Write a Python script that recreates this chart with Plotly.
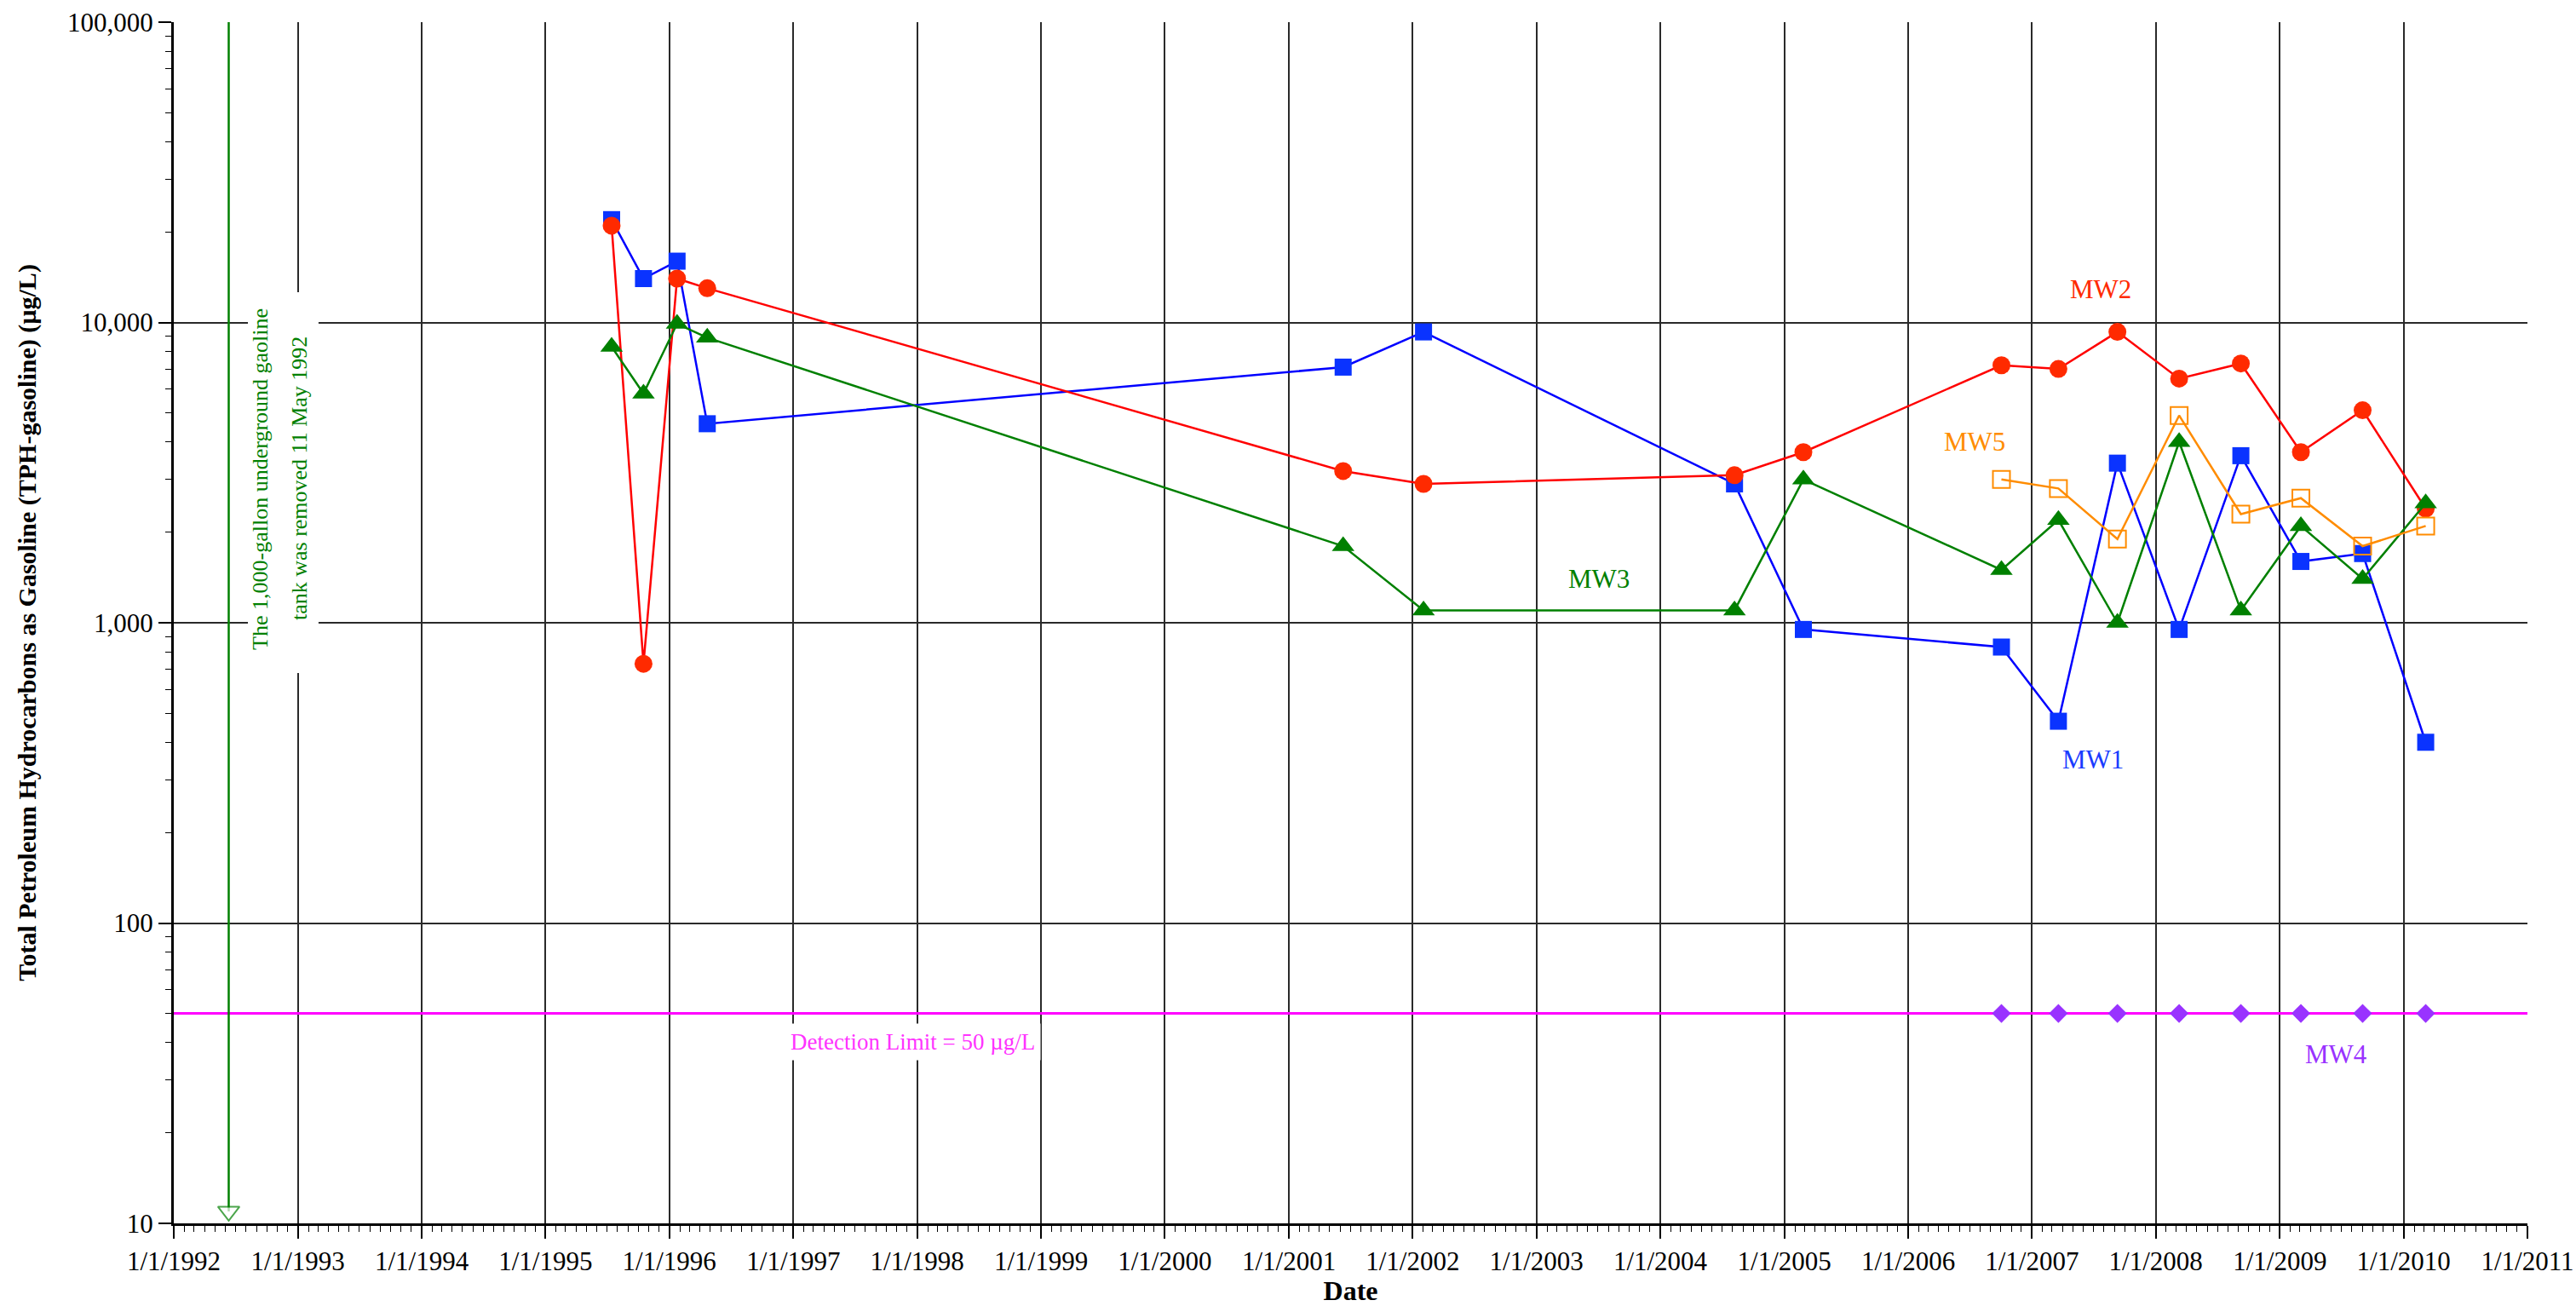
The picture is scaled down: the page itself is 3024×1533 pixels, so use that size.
import plotly.graph_objects as go

# ---------------- data ----------------
SAMPLE_DATES = ['1995-07-15', '1995-10-17', '1996-01-24', '1996-04-22',
                '2001-06-10', '2002-02-02', '2004-08-07', '2005-02-26',
                '2006-10-03', '2007-03-20', '2007-09-10', '2008-03-10',
                '2008-09-08', '2009-03-04', '2009-09-02', '2010-03-07']
RECENT_DATES = ['2006-10-03', '2007-03-20', '2007-09-10', '2008-03-10',
                '2008-09-08', '2009-03-04', '2009-09-02', '2010-03-07']

MW1 = [22000, 14000, 16000, 4600, 7100, 9300, 2900, 950,
       830, 470, 3400, 950, 3600, 1600, 1700, 400]
MW2 = [21000, 730, 14000, 13000, 3200, 2900, 3100, 3700,
       7200, 7000, 9300, 6500, 7300, 3700, 5100, 2400]
MW3 = [8300, 5800, 9900, 8900, 1800, 1100, 1100, 3000,
       1500, 2200, 1000, 4000, 1100, 2100, 1400, 2500]
MW4 = [50, 50, 50, 50, 50, 50, 50, 50]
MW5 = [3000, 2800, 1900, 4900, 2300, 2600, 1800, 2100]

DETECTION_LIMIT = 50
TANK_REMOVAL_DATE = '1992-06-11'
TANK_LINE_TOP = 100000
TANK_LINE_BOTTOM = 10.96

X_RANGE = ['1992-01-01', '2011-01-01']
Y_TICK_VALUES = [10, 100, 1000, 10000, 100000]
Y_TICK_TEXT = ['10', '100', '1,000', '10,000', '100,000']

FONT = 'Liberation Serif, Times New Roman, serif'

# ---------------- figure ----------------
fig = go.Figure()

# detection-limit line
fig.add_trace(go.Scatter(x=X_RANGE, y=[DETECTION_LIMIT, DETECTION_LIMIT], mode='lines',
                         line=dict(color='#FF00FF', width=3), hoverinfo='skip'))

# tank removal marker line with open arrow head
fig.add_trace(go.Scatter(x=[TANK_REMOVAL_DATE, TANK_REMOVAL_DATE],
                         y=[TANK_LINE_TOP, TANK_LINE_BOTTOM], mode='lines+markers',
                         line=dict(color='#008000', width=2.5),
                         marker=dict(symbol='triangle-down', size=[0, 22], color='white',
                                     line=dict(color='#008000', width=2)),
                         cliponaxis=False, hoverinfo='skip'))

fig.add_trace(go.Scatter(x=SAMPLE_DATES, y=MW1, mode='lines+markers', name='MW1',
                         line=dict(color='#0000FF', width=2.5),
                         marker=dict(symbol='square', size=20, color='#0A33FF')))
fig.add_trace(go.Scatter(x=SAMPLE_DATES, y=MW2, mode='lines+markers', name='MW2',
                         line=dict(color='#FF0000', width=2.5),
                         marker=dict(symbol='circle', size=21, color='#FF2A00')))
fig.add_trace(go.Scatter(x=SAMPLE_DATES, y=MW3, mode='lines+markers', name='MW3',
                         line=dict(color='#008000', width=2.5),
                         marker=dict(symbol='triangle-up', size=23, color='#008000')))
fig.add_trace(go.Scatter(x=RECENT_DATES, y=MW4, mode='markers', name='MW4',
                         marker=dict(symbol='diamond', size=17, color='#9933FF')))
fig.add_trace(go.Scatter(x=RECENT_DATES, y=MW5, mode='lines+markers', name='MW5',
                         line=dict(color='#FF8C00', width=2.5),
                         marker=dict(symbol='square-open', size=20, color='#FF8C00',
                                     line=dict(width=2))))

# white box behind the tank note (no data marks lie inside it)
fig.add_shape(type='rect', xref='paper', yref='paper', x0=0.0315, x1=0.0615,
              y0=0.4582, y1=0.7752, fillcolor='white', line=dict(width=0), layer='above')

annotations = [
    dict(text='The 1,000-gallon underground gaoline', x=0.0369, y=0.6199,
         textangle=-90, font=dict(color='#008000', size=26)),
    dict(text='tank was removed 11 May 1992', x=0.0536, y=0.6199,
         textangle=-90, font=dict(color='#008000', size=26)),
    dict(text='Detection Limit = 50 µg/L', x=0.3138, y=0.1511,
         font=dict(color='#FF33FF', size=27), bgcolor='white', borderpad=6),
    dict(text='MW2', x=0.8187, y=0.7780, font=dict(color='#FF2A00', size=31)),
    dict(text='MW5', x=0.7651, y=0.6504, font=dict(color='#FF8C00', size=31)),
    dict(text='MW1', x=0.8154, y=0.3865, font=dict(color='#1A3CFF', size=31)),
    dict(text='MW3', x=0.6055, y=0.5362, font=dict(color='#008000', size=31)),
    dict(text='MW4', x=0.9186, y=0.1411, font=dict(color='#9933FF', size=31)),
]
for a in annotations:
    a.update(xref='paper', yref='paper', showarrow=False, xanchor='center', yanchor='middle')
    a['font']['family'] = FONT
    fig.add_annotation(**a)

minor_y = [m * 10 ** e for e in range(1, 5) for m in range(2, 10)]

fig.update_layout(
    width=3024, height=1533,
    margin=dict(l=204, r=57, t=26, b=97, pad=0),
    paper_bgcolor='white', plot_bgcolor='white',
    showlegend=False,
    font=dict(family=FONT, size=31, color='black'),
    xaxis=dict(
        type='date', range=X_RANGE, tick0='1992-01-01', dtick='M12',
        tickformat='%-m/%-d/%Y', tickfont=dict(size=31, family=FONT),
        showgrid=True, gridcolor='#2a2a2a', gridwidth=1.6,
        showline=True, linecolor='black', linewidth=3, zeroline=False,
        ticks='outside', ticklen=15, tickwidth=1.5, tickcolor='black',
        minor=dict(dtick='M1', tick0='1992-01-01', ticks='outside', ticklen=7,
                   tickwidth=1.2, tickcolor='black', showgrid=False),
        title=dict(text='Date', font=dict(size=32, family=FONT, weight='bold'), standoff=6),
        automargin=False,
    ),
    yaxis=dict(
        type='log', range=[1, 5], tickmode='array', tickvals=Y_TICK_VALUES, ticktext=Y_TICK_TEXT,
        tickfont=dict(size=31, family=FONT),
        showgrid=True, gridcolor='#2a2a2a', gridwidth=1.6,
        showline=True, linecolor='black', linewidth=3, zeroline=False,
        ticks='outside', ticklen=15, tickwidth=1.5, tickcolor='black',
        minor=dict(tickmode='array', tickvals=minor_y, ticks='outside', ticklen=7,
                   tickwidth=1.2, tickcolor='black', showgrid=False),
        title=dict(text='Total Petroleum Hydrocarbons as Gasoline (TPH-gasoline) (µg/L)',
                   font=dict(size=30, family=FONT, weight='bold'), standoff=28),
        automargin=False,
    ),
)

fig.write_html('out.html', config={'displayModeBar': False},
               post_script="document.body.style.margin='0';document.body.style.overflow='hidden';")
